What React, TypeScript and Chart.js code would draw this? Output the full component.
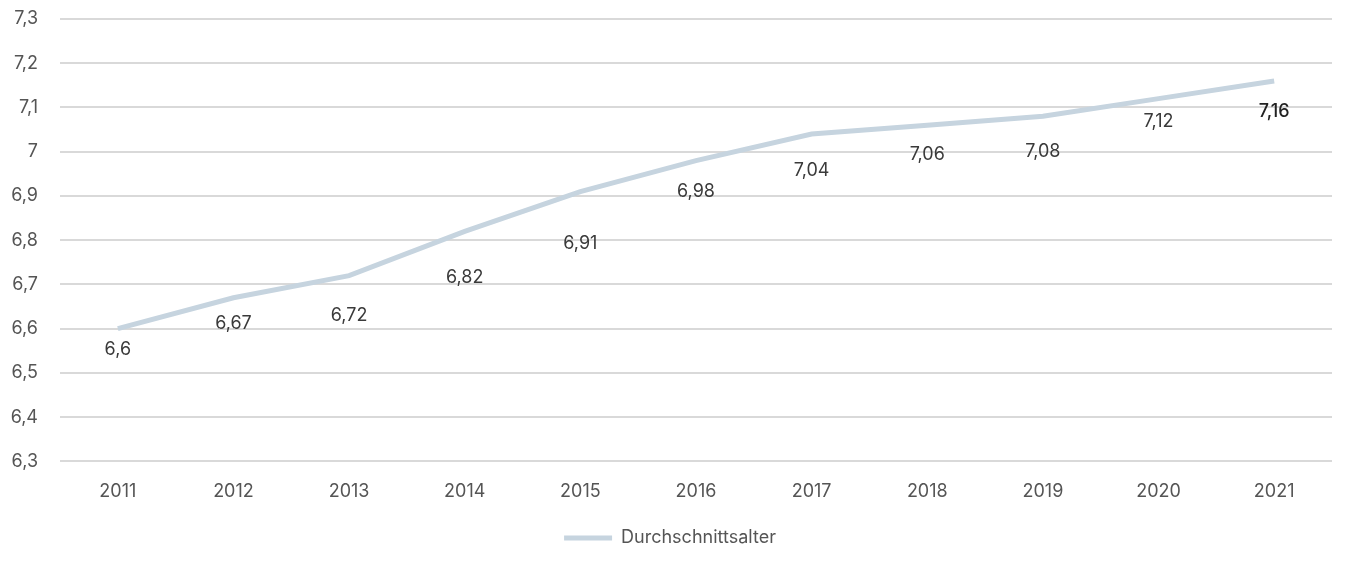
import React, { useEffect, useRef } from "react";
import { Chart, registerables } from "chart.js";

Chart.register(...registerables);

const categories = ["2011", "2012", "2013", "2014", "2015", "2016", "2017", "2018", "2019", "2020", "2021"];
const averageAge = [6.6, 6.67, 6.72, 6.82, 6.91, 6.98, 7.04, 7.06, 7.08, 7.12, 7.16];
const seriesName = "Durchschnittsalter";
const yMin = 6.3;
const yMax = 7.3;
const yStep = 0.1;

// pixel offset of each value label below its point (layout only)
const labelDrop = [21, 26, 40, 46, 52, 31, 37, 29, 35, 23, 31];

const FONT = "Inter, 'Liberation Sans', Arial, sans-serif";
const fmt = (v: number) => String(Math.round(v * 100) / 100).replace(".", ",");

const valueLabels = {
  id: "valueLabels",
  afterDatasetsDraw(chart: any) {
    const ctx = chart.ctx;
    const meta = chart.getDatasetMeta(0);
    ctx.save();
    ctx.textAlign = "center";
    ctx.textBaseline = "middle";
    meta.data.forEach((pt: any, i: number) => {
      const last = i === meta.data.length - 1;
      ctx.font = `${last ? 500 : 400} 18px ${FONT}`;
      ctx.fillStyle = last ? "#222222" : "#3a3a3a";
      ctx.fillText(fmt(averageAge[i]), pt.x, pt.y + labelDrop[i]);
    });
    ctx.restore();
  },
};

export default function App() {
  const ref = useRef<HTMLCanvasElement>(null);
  useEffect(() => {
    if (!ref.current) return;
    const chart = new Chart(ref.current, {
      type: "line",
      data: {
        labels: categories,
        datasets: [
          {
            label: seriesName,
            data: averageAge,
            borderColor: "#c6d4df",
            backgroundColor: "#c6d4df",
            borderWidth: 5,
            pointRadius: 0,
            pointHoverRadius: 0,
            tension: 0,
            fill: false,
          },
        ],
      },
      options: {
        animation: false,
        responsive: true,
        maintainAspectRatio: false,
        layout: { padding: { left: 8, right: 17, top: 19, bottom: 8 } },
        scales: {
          x: {
            offset: true,
            grid: { display: false, drawTicks: false },
            border: { display: false },
            ticks: { color: "#555555", font: { family: FONT, size: 18 }, padding: 19, maxRotation: 0 },
            afterFit: (s: any) => {
              s.paddingLeft = 0;
              s.paddingRight = 0;
              s.height = s.height - 6;
            },
          },
          y: {
            min: yMin,
            max: yMax,
            grid: { color: "#d9d9d9", lineWidth: 2, drawTicks: false },
            border: { display: false },
            ticks: {
              stepSize: yStep,
              color: "#555555",
              font: { family: FONT, size: 18 },
              padding: 22,
              callback: (v: any) => fmt(Number(v)),
            },
            afterFit: (s: any) => {
              s.width = 52;
              s.paddingTop = 0;
              s.paddingBottom = 0;
            },
          },
        },
        plugins: {
          legend: {
            position: "bottom",
            labels: {
              usePointStyle: true,
              pointStyle: "line",
              pointStyleWidth: 48,
              boxHeight: 5,
              color: "#555555",
              font: { family: FONT, size: 18 },
              padding: 14,
            },
          },
          tooltip: { enabled: false },
        },
      },
      plugins: [valueLabels],
    });
    return () => chart.destroy();
  }, []);
  return (
    <div style={{ position: "fixed", left: 0, top: 0, width: 1349, height: 565, background: "#fff" }}>
      <canvas ref={ref} />
    </div>
  );
}
